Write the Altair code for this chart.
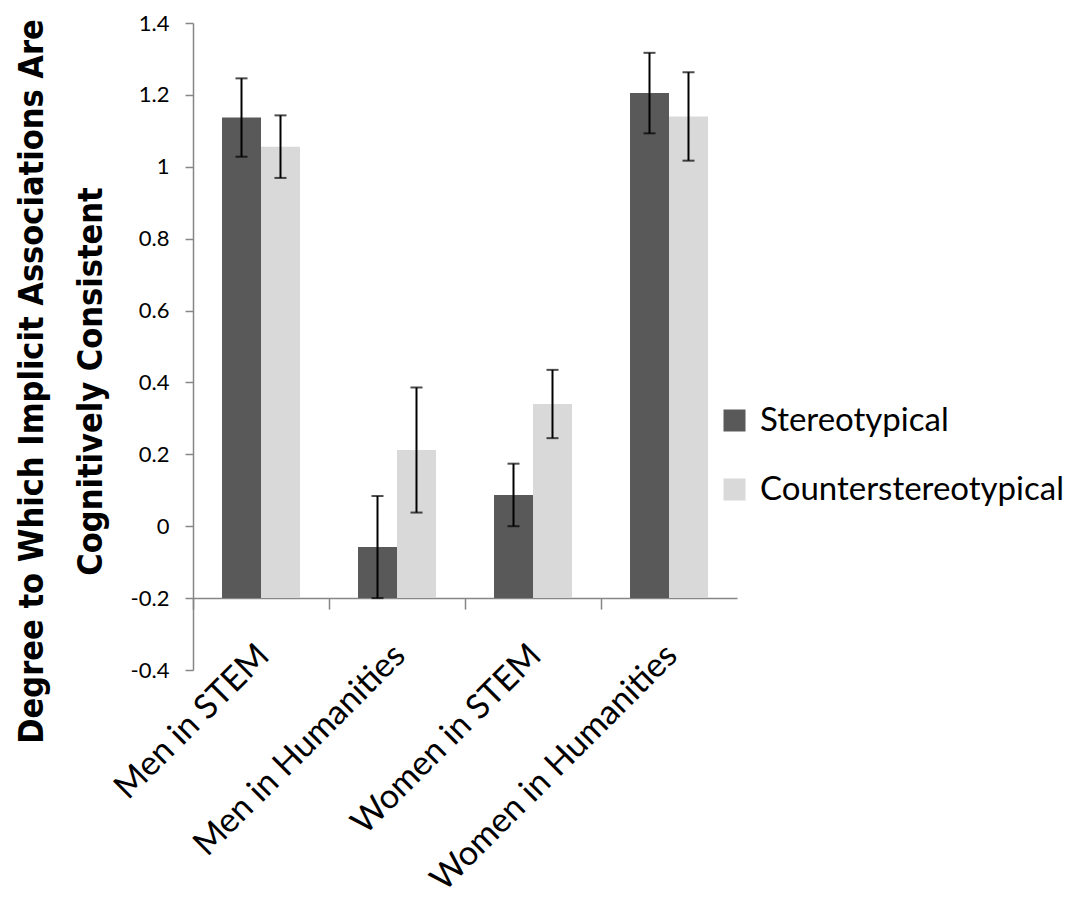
import altair as alt
import pandas as pd

categories = ["Men in STEM", "Men in Humanities", "Women in STEM", "Women in Humanities"]
series_names = ["Stereotypical", "Counterstereotypical"]
stereotypical = [1.137, -0.058, 0.087, 1.205]
stereotypical_err = [0.109, 0.142, 0.087, 0.112]
counterstereotypical = [1.056, 0.212, 0.340, 1.140]
counterstereotypical_err = [0.087, 0.174, 0.095, 0.123]
y_ticks = [-0.4, -0.2, 0, 0.2, 0.4, 0.6, 0.8, 1.0, 1.2, 1.4]
colors = ["#595959", "#D9D9D9"]

rows = []
for name, vals, errs in [(series_names[0], stereotypical, stereotypical_err),
                         (series_names[1], counterstereotypical, counterstereotypical_err)]:
    for c, v, e in zip(categories, vals, errs):
        rows.append({"category": c, "series": name, "value": v, "lo": v - e, "hi": v + e})
df = pd.DataFrame(rows)

W, H = 544, 647
label_font = "Lato, 'Open Sans', sans-serif"
title_font = "'Liberation Sans Narrow', 'DejaVu Sans Condensed', sans-serif"

x_enc = alt.X(
    "category:N",
    sort=categories,
    scale=alt.Scale(paddingInner=0, paddingOuter=0),
    axis=alt.Axis(
        title=None,
        offset=-71.9,
        bandPosition=0,
        labelAngle=-45,
        labelAlign="right",
        labelBaseline="top",
        labelOffset=-9,
        labelPadding=29,
        labelFont=label_font,
        labelFontSize=34,
        labelColor="#000000",
        labelLimit=0,
        tickSize=11,
        tickColor="#868686",
        domainColor="#868686",
        tickWidth=1.5,
        domainWidth=1.5,
        labelOverlap=False,
    ),
)
xoff = alt.XOffset(
    "series:N",
    sort=series_names,
    scale=alt.Scale(domain=series_names, paddingInner=0, paddingOuter=0.744),
)
y_scale = alt.Scale(domain=[-0.4, 1.4], nice=False, zero=False)

bars = alt.Chart(df).mark_bar().encode(
    x=x_enc,
    xOffset=xoff,
    y=alt.Y(
        "value:Q",
        scale=y_scale,
        axis=alt.Axis(
            values=y_ticks,
            labelExpr="toString(round(datum.value*10)/10)",
            title=["Degree to Which Implicit Associations Are", "Cognitively Consistent"],
            titleFont=title_font,
            titleFontSize=34,
            titleFontWeight="bold",
            titleColor="#000000",
            titleAngle=-90,
            titleAlign="center",
            titleBaseline="top",
            titleX=-178,
            titleY=358,
            titleLineHeight=59,
            labelFont=label_font,
            labelFontSize=22,
            labelColor="#000000",
            labelPadding=16,
            tickSize=8,
            tickColor="#868686",
            domainColor="#868686",
            tickWidth=1.5,
            domainWidth=1.5,
            grid=False,
        ),
    ),
    y2=alt.datum(-0.2),
    color=alt.Color(
        "series:N",
        sort=series_names,
        scale=alt.Scale(domain=series_names, range=colors),
        legend=alt.Legend(
            title=None,
            orient="none",
            legendX=525,
            legendY=381,
            symbolType="square",
            symbolSize=484,
            symbolStrokeWidth=0,
            labelFont=label_font,
            labelFontSize=33,
            labelColor="#000000",
            labelOffset=9,
            labelLimit=0,
            rowPadding=35,
        ),
    ),
)

rules = alt.Chart(df).mark_rule(color="#000000", strokeWidth=2).encode(
    x=alt.X("category:N", sort=categories),
    xOffset=xoff,
    y=alt.Y("lo:Q", scale=y_scale),
    y2="hi:Q",
)
caps_lo = alt.Chart(df).mark_tick(color="#000000", thickness=2, size=12).encode(
    x=alt.X("category:N", sort=categories),
    xOffset=xoff,
    y=alt.Y("lo:Q", scale=y_scale),
)
caps_hi = alt.Chart(df).mark_tick(color="#000000", thickness=2, size=12).encode(
    x=alt.X("category:N", sort=categories),
    xOffset=xoff,
    y=alt.Y("hi:Q", scale=y_scale),
)

chart = alt.layer(bars, rules, caps_lo, caps_hi).properties(
    width=W,
    height=H,
    background="#ffffff",
    autosize=alt.AutoSizeParams(type="none"),
    padding={"left": 185, "top": 15, "right": 335, "bottom": 228},
).configure_view(stroke=None)

chart.save("out.html", embed_options={"renderer": "svg", "actions": False})
